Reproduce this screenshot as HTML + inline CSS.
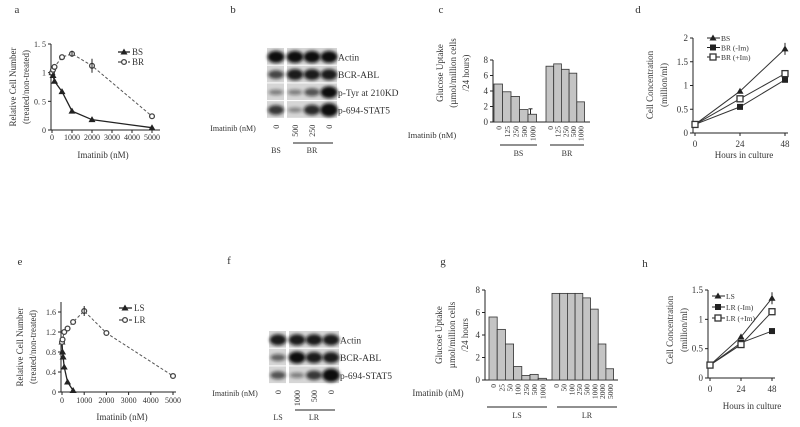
<!DOCTYPE html>
<html><head><meta charset="utf-8"><style>
html,body{margin:0;padding:0;background:#fff;}
svg{display:block;font-family:"Liberation Serif",serif;}
text{fill:#333;}
</style></head><body>
<svg id="fig" width="800" height="427" viewBox="0 0 800 427" xmlns="http://www.w3.org/2000/svg">
<defs><filter id="bl" x="-50%" y="-50%" width="200%" height="200%"><feGaussianBlur stdDeviation="1.6"/></filter></defs>
</svg>
<script>
// Panel a data
const aX = [0, 50, 125, 500, 1000, 2000, 5000];
const aBS = [1.0, 0.95, 0.85, 0.67, 0.33, 0.18, 0.04];
const aBR = [1.0, 1.05, 1.1, 1.27, 1.33, 1.12, 0.24];
const aXTicks = [0, 1000, 2000, 3000, 4000, 5000];
const aYTicks = [0, 0.5, 1, 1.5];
const aYTickLabels = ['0', '0. 5', '1', '1. 5'];
// Panel c data
const cLanes = ['0', '125', '250', '500', '1000'];
const cBS = [4.9, 3.9, 3.3, 1.6, 1.0];
const cBR = [7.2, 7.5, 6.8, 6.3, 2.6];
const cYTicks = [0, 2, 4, 6, 8];
// Panel d data
const dX = [0, 24, 48];
const dBS = [0.18, 0.88, 1.77];
const dBRm = [0.18, 0.55, 1.12];
const dBRp = [0.18, 0.72, 1.25];
const dYTicks = [0, 0.5, 1, 1.5, 2];
// Panel e data
const eXLS = [0, 25, 50, 100, 250, 500];
const eLS = [1.0, 0.8, 0.7, 0.5, 0.2, 0.03];
const eXLR = [0, 25, 100, 250, 500, 1000, 2000, 5000];
const eLR = [1.0, 1.05, 1.2, 1.27, 1.4, 1.62, 1.18, 0.32];
const eYTicks = [0, 0.4, 0.8, 1.2, 1.6];
// Panel g data
const gLSLanes = ['0', '25', '50', '100', '250', '500', '1000'];
const gLS = [5.6, 4.5, 3.2, 1.2, 0.4, 0.5, 0.15];
const gLRLanes = ['0', '50', '100', '250', '500', '1000', '2000', '5000'];
const gLR = [7.7, 7.7, 7.7, 7.7, 7.3, 6.3, 3.2, 1.0];
const gYTicks = [0, 2, 4, 6, 8];
// Panel h data
const hX = [0, 24, 48];
const hLS = [0.22, 0.7, 1.36];
const hLRm = [0.22, 0.6, 0.8];
const hLRp = [0.22, 0.57, 1.13];
const hYTicks = [0, 0.5, 1, 1.5];

const svg = document.getElementById('fig');
const NS = 'http://www.w3.org/2000/svg';
function mk(tag, at, parent) {
  const e = document.createElementNS(NS, tag);
  for (const k in at) e.setAttribute(k, at[k]);
  (parent || svg).appendChild(e);
  return e;
}
function txt(x, y, s, size, anchor, rot, parent) {
  const t = mk('text', {x: x, y: y, 'font-size': size, 'text-anchor': anchor || 'middle'}, parent);
  if (rot) t.setAttribute('transform', 'rotate(' + rot + ' ' + x + ' ' + y + ')');
  t.textContent = s;
  return t;
}
function line(x1, y1, x2, y2, w, dash, parent, col) {
  const l = mk('line', {x1: x1, y1: y1, x2: x2, y2: y2, stroke: col || '#222', 'stroke-width': w || 1}, parent);
  if (dash) l.setAttribute('stroke-dasharray', dash);
  return l;
}
function marker(type, x, y, parent) {
  let m;
  if (type === 'tri') m = mk('polygon', {points: (x) + ',' + (y - 3.5) + ' ' + (x - 3.5) + ',' + (y + 2.5) + ' ' + (x + 3.5) + ',' + (y + 2.5), fill: '#222'}, parent);
  else if (type === 'dia') m = mk('circle', {cx: x, cy: y, r: 2.4, fill: '#fff', stroke: '#444', 'stroke-width': 1.3}, parent);
  else if (type === 'sq') m = mk('rect', {x: x - 3, y: y - 3, width: 6, height: 6, fill: '#222'}, parent);
  else m = mk('rect', {x: x - 3, y: y - 3, width: 6, height: 6, fill: '#fff', stroke: '#333', 'stroke-width': 1.3}, parent);
  return m;
}
function panelLabel(x, y, s) {
  const t = txt(x, y, s, 11, 'middle');
  
  
}

// ---------- Panel a ----------
(function () {
  const g = mk('g', {});
  
  
  const x0 = 52, x1 = 152, y0 = 130, y1 = 44;
  const X = v => x0 + (v / 5000) * (x1 - x0);
  const Y = v => y0 - (v / 1.5) * (y0 - y1);
  line(51, 44, 51, 130, 1, null, g); line(51, 130, 160, 130, 1, null, g);
  aYTicks.forEach((v, i) => { line(48, Y(v), 51, Y(v), 1, null, g); txt(46, Y(v) + 3, aYTickLabels[i], 8, 'end', 0, g); });
  aXTicks.forEach(v => { line(X(v), 130, X(v), 133, 1, null, g); txt(X(v), 140, String(v), 8, 'middle', 0, g); });
  txt(103, 158, 'Imatinib (nM)', 9, 'middle', 0, g);
  txt(16, 87, 'Relative Cell Number', 9, 'middle', -90, g);
  txt(29, 87, '(treated/non-treated)', 9, 'middle', -90, g);
  const pBS = mk('polyline', {points: aX.map((v, i) => X(v) + ',' + Y(aBS[i])).join(' '), fill: 'none', stroke: '#222', 'stroke-width': 1.3}, g);
   
  const pBR = mk('polyline', {points: aX.map((v, i) => X(v) + ',' + Y(aBR[i])).join(' '), fill: 'none', stroke: '#555', 'stroke-width': 1, 'stroke-dasharray': '3,2'}, g);
   
  aX.forEach((v, i) => { marker('tri', X(v), Y(aBS[i]), g); marker('dia', X(v), Y(aBR[i]), g); });
  line(X(2000), Y(aBR[5]) - 7, X(2000), Y(aBR[5]) + 7, 1, null, g);
  line(X(1000), Y(aBR[4]) - 3, X(1000), Y(aBR[4]) + 3, 1, null, g);
  line(118, 52, 130, 52, 1.3, null, g); marker('tri', 124, 52, g); txt(132, 55, 'BS', 9, 'start', 0, g);
  line(118, 62, 130, 62, 1, '3,2', g); marker('dia', 124, 62, g); txt(132, 65, 'BR', 9, 'start', 0, g);
})();
panelLabel(17, 13, 'a');

// ---------- Blots ----------
function blot(gx, gy, rows, intens, labels, lanes, grpL, grpR, name, labelY) {
  const g = mk('g', {});
  
  
  const laneX = [gx + 9, gx + 28, gx + 45, gx + 62];
  const rh = 17.7;
  rows.forEach((r, ri) => {
    const ry = gy + ri * rh;
    mk('rect', {x: gx, y: ry, width: 17, height: rh - 1, fill: '#d6d6d6'}, g);
    mk('rect', {x: gx + 20, y: ry, width: 50, height: rh - 1, fill: '#d6d6d6'}, g);
    laneX.forEach((lx, li) => {
      const v = intens[ri][li];
      if (v > 0) mk('ellipse', {cx: lx, cy: ry + rh / 2, rx: 7 + v * 1.5, ry: 2 + v * 4, fill: '#111', opacity: Math.min(1, 0.3 + v * 0.7), filter: 'url(#bl)'}, g);
    });
    txt(gx + 71, ry + rh / 2 + 3.5, labels[ri], 9.5, 'start', 0, g);
  });
  const by = gy + rows.length * rh;
  txt(gx - 34, by + 12, 'Imatinib (nM)', 8, 'middle', 0, g);
  lanes.forEach((s, i) => txt(laneX[i] + 3, by + 6, s, 8, 'end', -90, g));
  line(gx + 26, labelY - 10, gx + 66, labelY - 10, 1, null, g);
  txt(laneX[0], labelY, grpL, 8, 'middle', 0, g);
  txt(laneX[2], labelY, grpR, 8, 'middle', 0, g);
}
blot(267, 48, [0, 1, 2, 3], [[1, 1, 1, 1], [0.6, 0.9, 0.9, 0.9], [0.2, 0.2, 0.5, 1], [0.7, 0.15, 0.8, 1.2]],
  ['Actin', 'BCR-ABL', 'p-Tyr at 210KD', 'p-694-STAT5'], ['0', '500', '250', '0'], 'BS', 'BR', 'panel-b-western-blot', 153);
panelLabel(233, 13, 'b');
blot(269, 331, [0, 1, 2], [[0.9, 0.9, 0.9, 0.9], [0.4, 1, 0.9, 0.9], [0.5, 0.2, 0.7, 1.2]],
  ['Actin', 'BCR-ABL', 'p-694-STAT5'], ['0', '1000', '500', '0'], 'LS', 'LR', 'panel-f-western-blot', 420);
panelLabel(229, 264, 'f');

// ---------- Bar panels ----------
function bars(cfg) {
  const g = mk('g', {});
  
  
  const Y = v => cfg.y0 - (v / cfg.ymax) * (cfg.y0 - cfg.y1);
  line(cfg.ax, cfg.y1, cfg.ax, cfg.y0, 1, null, g);
  line(cfg.ax, cfg.y0, cfg.axEnd, cfg.y0, 1, null, g);
  cfg.yt.forEach(v => { line(cfg.ax - 3, Y(v), cfg.ax, Y(v), 1, null, g); txt(cfg.ax - 5, Y(v) + 3, String(v), 9, 'end', 0, g); });
  [[cfg.s1, cfg.l1, cfg.x1, cfg.w1, cfg.n1], [cfg.s2, cfg.l2, cfg.x2, cfg.w2, cfg.n2]].forEach(([vals, labs, sx, w, nm]) => {
    vals.forEach((v, i) => {
      const r = mk('rect', {x: sx + i * w, y: Y(v), width: w, height: cfg.y0 - Y(v), fill: '#c4c4c4', stroke: '#333', 'stroke-width': 0.8}, g);
      
      
      txt(sx + i * w + w / 2 + 3, cfg.y0 + 4, labs[i], 7.5, 'end', -90, g);
    });
  });
  if (cfg.err) { const [ex, ev] = cfg.err; line(ex, Y(ev[0]), ex, Y(ev[1]), 1, null, g); line(ex - 2, Y(ev[1]), ex + 2, Y(ev[1]), 1, null, g); }
  cfg.ylab.forEach((s, i) => txt(cfg.ylx + i * 13, cfg.yly, s, 9, 'middle', -90, g));
  txt(cfg.imx, cfg.imy, 'Imatinib (nM)', cfg.imsize, 'middle', 0, g);
  cfg.grp.forEach(([a, b, s]) => { line(a, cfg.gy, b, cfg.gy, 1, null, g); txt((a + b) / 2, cfg.gy + 11, s, 8, 'middle', 0, g); });
}
bars({name: 'panel-c-glucose-uptake', ax: 493, axEnd: 590, y0: 122, y1: 60, ymax: 8, yt: cYTicks,
  s1: cBS, l1: cLanes, x1: 494, w1: 8.5, n1: 'bs', s2: cBR, l2: cLanes, x2: 546, w2: 7.7, n2: 'br',
  err: [530.5, [1.0, 1.7]], ylab: ['Glucose Uptake', '(µmol/million cells', '/24 hours)'], ylx: 443, yly: 73,
  imx: 432, imy: 138, imsize: 8.5, grp: [[500, 537, 'BS'], [550, 584, 'BR']], gy: 145});
panelLabel(441, 13, 'c');
bars({name: 'panel-g-glucose-uptake', ax: 485, axEnd: 618, y0: 380, y1: 290, ymax: 8, yt: gYTicks,
  s1: gLS, l1: gLSLanes, x1: 489, w1: 8.2, n1: 'ls', s2: gLR, l2: gLRLanes, x2: 552, w2: 7.7, n2: 'lr',
  err: null, ylab: ['Glucose Uptake', 'µmol/million cells', '/24 hours'], ylx: 442, yly: 335,
  imx: 438, imy: 396, imsize: 9, grp: [[487, 547, 'LS'], [557, 617, 'LR']], gy: 407});
panelLabel(443, 265, 'g');

// ---------- Panel e ----------
(function () {
  const g = mk('g', {});
  
  
  const x0 = 62, x1 = 173, y0 = 392, y1 = 312;
  const X = v => x0 + (v / 5000) * (x1 - x0);
  const Y = v => y0 - (v / 1.6) * (y0 - y1);
  line(61, 302, 61, 392, 1, null, g); line(61, 392, 176, 392, 1, null, g);
  eYTicks.forEach(v => { line(58, Y(v), 61, Y(v), 1, null, g); txt(56, Y(v) + 3, String(v), 8, 'end', 0, g); });
  aXTicks.forEach(v => { line(X(v), 392, X(v), 395, 1, null, g); txt(X(v), 403, String(v), 8, 'middle', 0, g); });
  txt(122, 420, 'Imatinib (nM)', 9, 'middle', 0, g);
  txt(23, 347, 'Relative Cell Number', 9, 'middle', -90, g);
  txt(36, 347, '(treated/non-treated)', 9, 'middle', -90, g);
  const p1 = mk('polyline', {points: eXLS.map((v, i) => X(v) + ',' + Y(eLS[i])).join(' '), fill: 'none', stroke: '#222', 'stroke-width': 1.3}, g);
   
  const p2 = mk('polyline', {points: eXLR.map((v, i) => X(v) + ',' + Y(eLR[i])).join(' '), fill: 'none', stroke: '#555', 'stroke-width': 1, 'stroke-dasharray': '3,2'}, g);
   
  eXLS.forEach((v, i) => marker('tri', X(v), Y(eLS[i]), g));
  eXLR.forEach((v, i) => marker('dia', X(v), Y(eLR[i]), g));
  line(X(1000), Y(eLR[5]) - 5, X(1000), Y(eLR[5]) + 5, 1, null, g);
  line(119, 308, 132, 308, 1.3, null, g); marker('tri', 125, 308, g); txt(134, 311, 'LS', 9, 'start', 0, g);
  line(119, 320, 132, 320, 1, '3,2', g); marker('dia', 125, 320, g); txt(134, 323, 'LR', 9, 'start', 0, g);
})();
panelLabel(20, 265, 'e');

// ---------- Growth panels ----------
function growth(cfg) {
  const g = mk('g', {});
  
  
  const X = v => cfg.x0 + (v / 48) * (cfg.x1 - cfg.x0);
  const Y = v => cfg.y0 - (v / cfg.ymax) * (cfg.y0 - cfg.y1);
  line(cfg.ax, cfg.y1, cfg.ax, cfg.y0, 1, null, g);
  line(cfg.ax, cfg.y0, cfg.x1 + 3, cfg.y0, 1, null, g);
  cfg.yt.forEach(v => { line(cfg.ax - 3, Y(v), cfg.ax, Y(v), 1, null, g); txt(cfg.ax - 5, Y(v) + 3, String(v), 9, 'end', 0, g); });
  cfg.xs.forEach(v => { line(X(v), cfg.y0, X(v), cfg.y0 + 3, 1, null, g); txt(X(v), cfg.y0 + 14, String(v), 9, 'middle', 0, g); });
  txt(cfg.xlx, cfg.xly, 'Hours in culture', 9, 'middle', 0, g);
  txt(cfg.ylx, cfg.yly, 'Cell Concentration', 9, 'middle', -90, g);
  txt(cfg.ylx + 14, cfg.yly, '(million/ml)', 9, 'middle', -90, g);
  cfg.series.forEach(([vals, m, lab, nm], si) => {
    const p = mk('polyline', {points: cfg.xs.map((v, i) => X(v) + ',' + Y(vals[i])).join(' '), fill: 'none', stroke: '#333', 'stroke-width': 1}, g);
     
    cfg.xs.forEach((v, i) => marker(m, X(v), Y(vals[i]), g));
    const ly = cfg.legY + si * cfg.legDy;
    line(cfg.legX, ly, cfg.legX + 13, ly, 1, null, g); marker(m, cfg.legX + 6, ly, g);
    txt(cfg.legX + 14, ly + 3, lab, 7.5, 'start', 0, g);
  });
  const t = cfg.series[0][0][2];
  line(X(48), Y(t) - 6, X(48), Y(t) + 6, 1, null, g);
}
growth({name: 'panel-d-growth', ax: 693, x0: 695, x1: 785, y0: 133, y1: 38, ymax: 2, yt: dYTicks, xs: dX,
  xlx: 744, xly: 158, ylx: 653, yly: 85, legX: 707, legY: 38, legDy: 9.5,
  series: [[dBS, 'tri', 'BS', 'bs'], [dBRm, 'sq', 'BR (-Im)', 'br-minus-im'], [dBRp, 'osq', 'BR (+Im)', 'br-plus-im']]});
panelLabel(638, 13, 'd');
growth({name: 'panel-h-growth', ax: 708, x0: 710, x1: 772, y0: 378, y1: 290, ymax: 1.5, yt: hYTicks, xs: hX,
  xlx: 752, xly: 409, ylx: 673, yly: 330, legX: 712, legY: 296, legDy: 11,
  series: [[hLS, 'tri', 'LS', 'ls'], [hLRm, 'sq', 'LR (-Im)', 'lr-minus-im'], [hLRp, 'osq', 'LR (+Im)', 'lr-plus-im']]});
panelLabel(645, 267, 'h');
</script>
</body></html>
